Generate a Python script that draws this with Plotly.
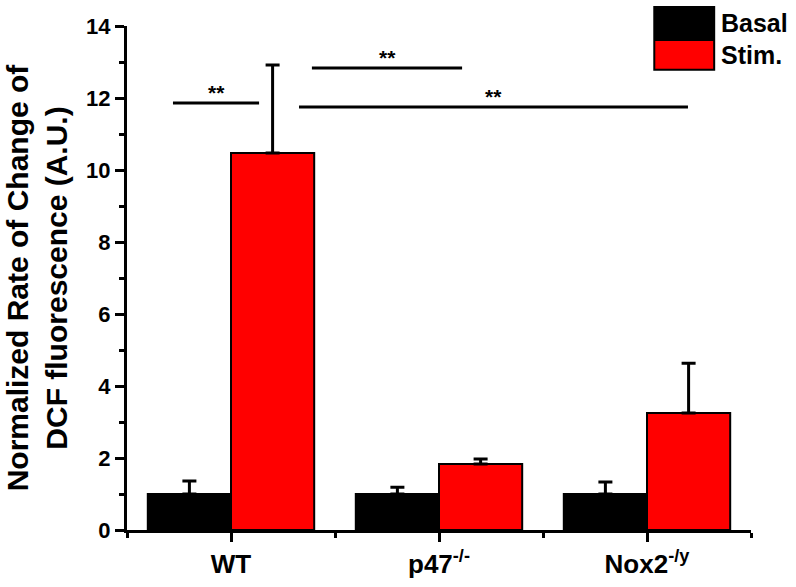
import plotly.graph_objects as go

categories = ["WT", "p47<sup>-/-</sup>", "Nox2<sup>-/y</sup>"]
cat_pos = [0, 1, 2]
basal = [1.0, 1.0, 1.0]
basal_err = [0.36, 0.19, 0.33]
stim = [10.47, 1.83, 3.25]
stim_err = [2.45, 0.14, 1.38]
series_names = ["Basal", "Stim."]
series_colors = ["#000000", "#FF0000"]

# significance brackets: x start, x end, y level
sig_x0 = [-0.279, 0.389, 0.327]
sig_x1 = [0.135, 1.111, 2.197]
sig_y = [11.86, 12.83, 11.75]
sig_text = ["**", "**", "**"]

FONT = "Arial, Liberation Sans, sans-serif"

def bfont(size):
    return dict(family=FONT, size=size, color="black", weight="bold")

fig = go.Figure()
for name, vals, errs, col in [(series_names[0], basal, basal_err, series_colors[0]),
                              (series_names[1], stim, stim_err, series_colors[1])]:
    fig.add_trace(go.Bar(
        x=cat_pos, y=vals, name=name,
        marker=dict(color=col, line=dict(color="black", width=2)),
        error_y=dict(type="data", symmetric=False, array=errs,
                     arrayminus=[0] * len(errs), color="black",
                     thickness=3, width=7),
        showlegend=False,
    ))

for x0, x1, y, t in zip(sig_x0, sig_x1, sig_y, sig_text):
    fig.add_shape(type="line", xref="x", yref="y", x0=x0, x1=x1, y0=y, y1=y,
                  line=dict(color="black", width=3))
    fig.add_annotation(x=(x0 + x1) / 2, y=y, xref="x", yref="y", text=t,
                       showarrow=False, yanchor="bottom", yshift=-3,
                       font=bfont(21))

# manual legend
leg_y = [(1.0377, 0.976), (0.972, 0.913)]
for (ytop, ybot), name, col in zip(leg_y, series_names, series_colors):
    fig.add_shape(type="rect", xref="paper", yref="paper", x0=0.845, x1=0.941,
                  y0=ybot, y1=ytop, fillcolor=col, line=dict(color="black", width=2))
    fig.add_annotation(x=0.949, y=(ytop + ybot) / 2, xref="paper", yref="paper",
                       text=name, showarrow=False, xanchor="left",
                       yanchor="middle", font=bfont(25))

fig.update_layout(
    width=796, height=587,
    margin=dict(l=127, r=45, t=26, b=57),
    paper_bgcolor="white", plot_bgcolor="white",
    barmode="group", bargap=0.2, bargroupgap=0,
    font=dict(family=FONT, color="black"),
)
fig.update_xaxes(
    range=[-0.5, 2.5], tickmode="array", tickvals=cat_pos,
    ticktext=categories,
    tickfont=bfont(26),
    showline=True, linecolor="black", linewidth=3,
    ticks="outside", ticklen=9, tickwidth=3, tickcolor="black",
    minor=dict(tick0=0.5, dtick=1, ticks="outside", ticklen=5, tickwidth=3, tickcolor="black"),
    showgrid=False, zeroline=False, automargin=False,
)
fig.update_yaxes(
    range=[0, 14], tick0=0, dtick=2,
    tickfont=bfont(22),
    showline=True, linecolor="black", linewidth=3,
    ticks="outside", ticklen=9, tickwidth=3, tickcolor="black",
    minor=dict(tick0=1, dtick=2, ticks="outside", ticklen=5, tickwidth=3, tickcolor="black"),
    showgrid=False, zeroline=False, automargin=False,
    title=dict(text="Normalized Rate of Change of<br>DCF fluorescence (A.U.)",
               font=bfont(30), standoff=10),
)
fig.write_html("out.html", config={"displayModeBar": False},
               post_script="document.body.style.margin='0px';")
